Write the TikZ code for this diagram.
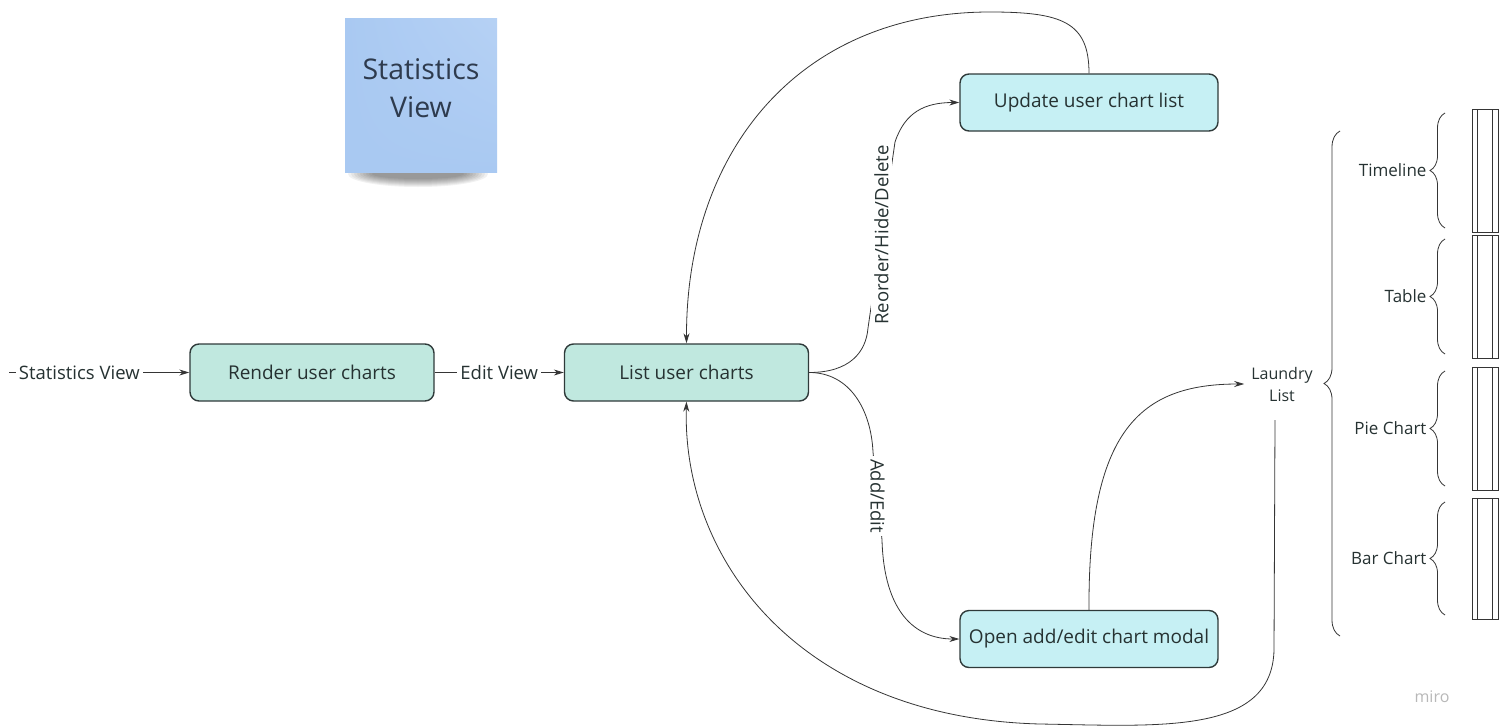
\documentclass[tikz,border=0pt]{standalone}
\usepackage{fontspec}
\setmainfont{Open Sans}
\usetikzlibrary{arrows.meta,decorations.pathreplacing,calc,shadings}

\definecolor{lineC}{HTML}{353535}
\definecolor{boxA}{HTML}{C0E8DF}
\definecolor{boxB}{HTML}{C6F0F4}
\definecolor{boxEdge}{HTML}{2F3A3A}
\definecolor{txtC}{HTML}{263232}
\definecolor{stickyC}{HTML}{A9C9F2}
\definecolor{stickyTxt}{HTML}{2E3B4E}

\tikzset{
  stepbox/.style={draw=boxEdge, line width=1.4pt, rounded corners=9pt,
    minimum height=57pt, text=txtC, font=\fontsize{19}{22}\selectfont},
  stepA/.style={stepbox, fill=boxA, minimum width=244pt},
  stepB/.style={stepbox, fill=boxB, minimum width=258pt},
  conn/.style={draw=lineC, line width=0.8pt, -{Stealth[length=10pt,width=6pt]}},
  lbl/.style={fill=white, inner sep=3pt, text=txtC, font=\fontsize{18.5}{20}\selectfont},
  small/.style={text=txtC, font=\fontsize{17}{20}\selectfont},
  bracket/.style={draw=lineC, line width=0.8pt, decorate},
  slot/.style={draw=lineC, line width=0.8pt}
}

\begin{document}
\begin{tikzpicture}[x=1pt,y=-1pt]
\useasboundingbox (0,0) rectangle (1507,728);

% sticky note with a soft shadow under it
\foreach \i in {0,...,8}{
  \fill[black, opacity=0.055] (418,174) ellipse ({70-3*\i} and {13-\i});
}
\shade[upper left=stickyC, lower left=stickyC, lower right=stickyC, upper right=stickyC!85!white]
  (345,18) rectangle (497,172);
\node[text=stickyTxt, font=\fontsize{28.5}{38}\selectfont, align=center] (note) at (421,88) {Statistics\\View};

% process boxes
\node[stepA] (render) at (312,372.5) {Render user charts};
\node[stepA] (list) at (686.5,372.5) {List user charts};
\node[stepB] (update) at (1089,102.5) {Update user chart list};
\node[stepB] (open) at (1089,639) {Open add/edit chart modal};

% laundry list
\node[small, align=center, inner xsep=7pt, font=\fontsize{16}{22}\selectfont] (laundry) at (1282,384) {Laundry\\List};
\coordinate (lauTail) at (1275,420);
\coordinate (start) at (9,372.5);

% straight connectors
\draw[conn] (start) -- node[lbl, pos=0.39] {Statistics View} (render.west);
\draw[conn] (render.east) -- node[lbl] {Edit View} (list.west);

% branch to update
\draw[conn] (list.east) .. controls (850,372.5) and (866,352) .. (868,328)
   -- node[lbl, rotate=90] {Reorder/Hide/Delete} (895,142)
   .. controls (905,112) and (925,102.5) .. (update.west);

% branch to add/edit
\draw[conn] (list.east) .. controls (850,372.5) and (871,410) .. (873,452)
   -- node[lbl, rotate=-90] {Add/Edit} (882,540)
   .. controls (884,612) and (915,639) .. (open.west);

% loop back from update to list
\draw[conn] (update.north) .. controls (1089,22) and (1062,12) .. (990,12)
   .. controls (800,12) and (686,150) .. (list.north);

% modal to laundry list
\draw[conn] (open.north) .. controls (1088,430) and (1140,384) .. (laundry.west);

% laundry list back to list
\draw[conn] (lauTail) -- (1274,650)
   .. controls (1272,735) and (1160,726) .. (1040,724)
   .. controls (800,718) and (682,560) .. (list.south);

% big brace
\draw[bracket, decoration={brace, amplitude=16pt, aspect=0.5}] (1340,636) -- (1340,131);

% chart kinds with braces and slots
\foreach \top/\bot/\name/\nm in {111/230/Timeline/tl, 237/356/Table/tb, 369/488/Pie Chart/pc, 500/617/Bar Chart/bc}{
  \draw[bracket, decoration={brace, amplitude=15pt}] (1445,\bot-2) -- (1445,\top+2);
  \node[small, anchor=east] (\nm) at (1430,{(\top+\bot)/2}) {\name};
  \draw[slot] (1472,\top-2) rectangle (1498,\bot+2);
  \draw[slot] (1477.5,\top-2) -- (1477.5,\bot+2);
  \draw[slot] (1492.5,\top-2) -- (1492.5,\bot+2);
}

% watermark
\node[text=black!28, font=\fontsize{16}{18}\selectfont] (miro) at (1432,697) {miro};
\end{tikzpicture}
\end{document}
